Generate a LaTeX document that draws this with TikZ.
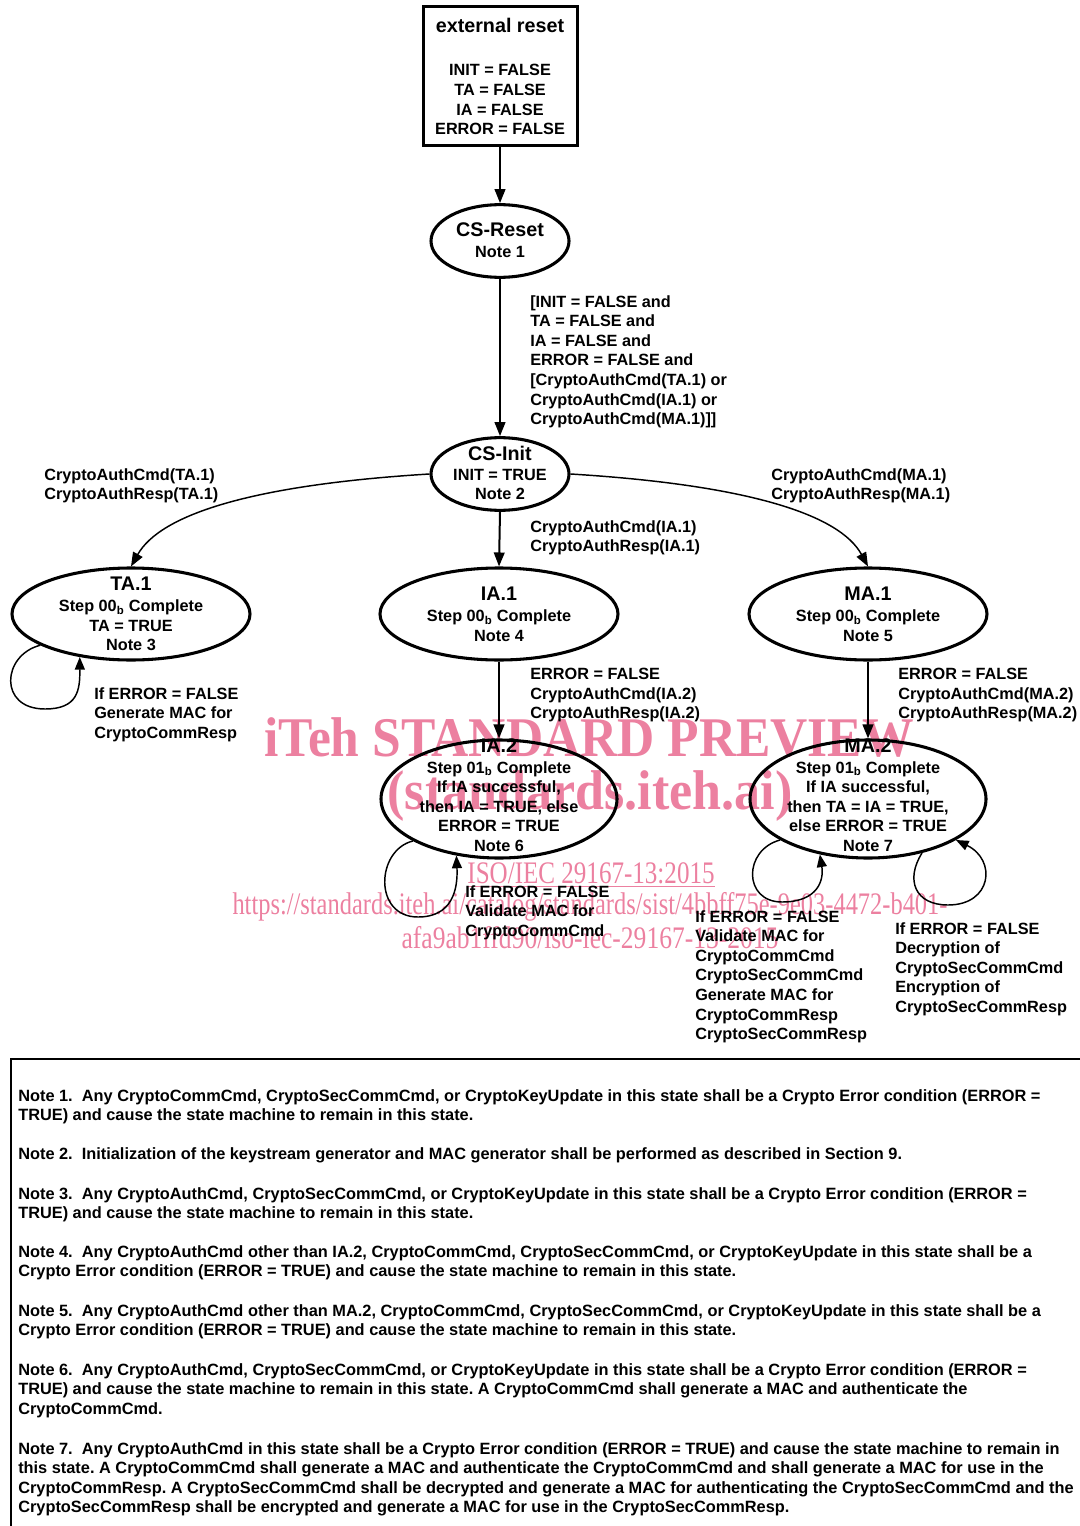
\documentclass[tikz,border=0pt]{standalone}
\usepackage{fontspec}
\setmainfont{Liberation Sans}
\newfontfamily\wmserif{Liberation Serif}
\usetikzlibrary{shapes.geometric,arrows.meta}
\definecolor{wmpink}{RGB}{236,128,160}
\newcommand\sttitle[1]{{\fontsize{14.8}{15}\selectfont #1}}
\frenchspacing
\begin{document}
\begin{tikzpicture}[x=0.75pt,y=-0.75pt,
  font=\bfseries\fontsize{12.2}{14.7}\selectfont,
  st/.style={ellipse, draw, line width=2.3pt, inner sep=0pt},
  big/.style={minimum width=178.5pt, minimum height=69pt},
  small/.style={minimum width=103.5pt, minimum height=54.5pt},
  tall/.style={minimum width=177pt, minimum height=88.5pt},
  txt/.style={align=center, inner sep=0pt},
  lab/.style={anchor=north west, align=left, inner sep=0pt},
  notetxt/.style={lab, font=\bfseries\fontsize{12.26}{14.7}\selectfont},
  arr/.style={line width=1.5pt, -{Triangle[length=10.5pt,width=8pt]}},
  arrc/.style={line width=1.1pt, -{Triangle[length=10.5pt,width=8pt]}},
  loopl/.style={line width=1.1pt, -{Triangle[length=9.5pt,width=7.5pt]}},
  wm/.style={text=wmpink, inner sep=0pt}]
\useasboundingbox (0,0) rectangle (1079,1526);

% watermark (underneath)
\node[wm, font=\wmserif\bfseries\fontsize{42}{42}\selectfont] (wm1) at (589,737) {\scalebox{0.92}[1]{iTeh STANDARD PREVIEW}};
\node[wm, font=\wmserif\bfseries\fontsize{42}{42}\selectfont] (wm2) at (590,796) {\scalebox{0.93}[1]{(standards.iteh.ai)}};
\node[wm, font=\wmserif\fontsize{23.5}{24}\selectfont] (wm3) at (591,875) {\scalebox{0.8}[1]{\underline{ISO/IEC 29167-13:2015}}};
\node[wm, font=\wmserif\fontsize{23.5}{24}\selectfont] (wm4) at (590,907) {\scalebox{0.78}[1]{https://standards.iteh.ai/catalog/standards/sist/4bbff75e-9e03-4472-b401-}};
\node[wm, font=\wmserif\fontsize{23.5}{24}\selectfont] (wm5) at (590,938) {\scalebox{0.815}[1]{afa9ab1ffd90/iso-iec-29167-13-2015}};

% external reset box
\node[draw, line width=2.25pt, minimum width=115.5pt, minimum height=104.25pt, align=center, inner sep=0pt] (ext) at (500,76.5)
  {\sttitle{external reset}\\[18pt]INIT = FALSE\\TA = FALSE\\IA = FALSE\\ERROR = FALSE};

% states
\node[st,small] (reset) at (500,241) {};
\node[txt] (reset-t) at (500,240.4) {\sttitle{CS-Reset}\\[1pt]Note 1};
\node[st,small] (init) at (500,474) {};
\node[txt] (init-t) at (500,473) {\sttitle{CS-Init}\\INIT = TRUE\\Note 2};
\node[st,big] (ta1) at (131,614) {};
\node[txt] (ta1-t) at (131,614) {\sttitle{TA.1}\\[0.9pt]Step 00\textsubscript{b} Complete\\TA = TRUE\\Note 3};
\node[st,big] (ia1) at (499,614) {};
\node[txt] (ia1-t) at (499,614.3) {\sttitle{IA.1}\\[0.9pt]Step 00\textsubscript{b} Complete\\Note 4};
\node[st,big] (ma1) at (868,614) {};
\node[txt] (ma1-t) at (868,614.3) {\sttitle{MA.1}\\[0.9pt]Step 00\textsubscript{b} Complete\\Note 5};
\node[st,tall] (ia2) at (499,799) {};
\node[txt] (ia2-t) at (499,795) {\sttitle{IA.2}\\[0.9pt]Step 01\textsubscript{b} Complete\\If IA successful,\\then IA = TRUE, else\\ERROR = TRUE\\Note 6};
\node[st,tall] (ma2) at (868,799) {};
\node[txt] (ma2-t) at (868,795) {\sttitle{MA.2}\\[0.9pt]Step 01\textsubscript{b} Complete\\If IA successful,\\then TA = IA = TRUE,\\else ERROR = TRUE\\Note 7};

% connectors
\draw[arr] (ext.south) -- (reset.north);
\draw[arr] (reset.south) -- (init.north);
\draw[arr] (init.south) -- (ia1.north);
\draw[arr] (ia1.south) -- (ia2.north);
\draw[arr] (ma1.south) -- (ma2.north);
\draw[arrc] (init.west) .. controls (250,485) and (160,515) .. (ta1.north);
\draw[arrc] (init.east) .. controls (750,485) and (840,515) .. (ma1.north);

% self loops
\draw[loopl] (ta1.199) .. controls (2,655) and (-2,709) .. (45,709) .. controls (78,709) and (80,690) .. (ta1.220);
\draw[loopl] (ia2.206) .. controls (376,850) and (373,917) .. (418,917) .. controls (452,917) and (458,890) .. (ia2.233);
\draw[loopl] (ma2.205) .. controls (743,850) and (743,902) .. (782,902) .. controls (818,902) and (824,880) .. (ma2.229);
\draw[loopl] (ma2.315) .. controls (905,880) and (915,905) .. (948,905) .. controls (992,905) and (997,860) .. (ma2.335);

% labels
\node[lab] (l-reset) at (530,295) {{[}INIT = FALSE and\\TA = FALSE and\\IA = FALSE and\\ERROR = FALSE and\\{[}CryptoAuthCmd(TA.1) or\\CryptoAuthCmd(IA.1) or\\CryptoAuthCmd(MA.1)]]};
\node[lab] (l-ta1) at (44,468) {CryptoAuthCmd(TA.1)\\CryptoAuthResp(TA.1)};
\node[lab] (l-ma1) at (771,468) {CryptoAuthCmd(MA.1)\\CryptoAuthResp(MA.1)};
\node[lab] (l-ia1) at (530,520) {CryptoAuthCmd(IA.1)\\CryptoAuthResp(IA.1)};
\node[lab] (l-ia2) at (530,668) {ERROR = FALSE\\CryptoAuthCmd(IA.2)\\CryptoAuthResp(IA.2)};
\node[lab] (l-ma2) at (898,668) {ERROR = FALSE\\CryptoAuthCmd(MA.2)\\CryptoAuthResp(MA.2)};
\node[lab] (l-taloop) at (94,687) {If ERROR = FALSE\\Generate MAC for\\CryptoCommResp};
\node[lab] (l-ialoop) at (465,885) {If ERROR = FALSE\\Validate MAC for\\CryptoCommCmd};
\node[lab] (l-maloop1) at (695,910) {If ERROR = FALSE\\Validate MAC for\\CryptoCommCmd\\CryptoSecCommCmd\\Generate MAC for\\CryptoCommResp\\CryptoSecCommResp};
\node[lab] (l-maloop2) at (895,922) {If ERROR = FALSE\\Decryption of\\CryptoSecCommCmd\\Encryption of\\CryptoSecCommResp};

% notes box
\draw[line width=1.5pt] (11,1540) -- (11,1059) -- (1090,1059);
\node[notetxt] (n1) at (18,1089) {Note 1.~ Any CryptoCommCmd, CryptoSecCommCmd, or CryptoKeyUpdate in this state shall be a Crypto Error condition (ERROR =\\TRUE) and cause the state machine to remain in this state.};
\node[notetxt] (n2) at (18,1147) {Note 2.~ Initialization of the keystream generator and MAC generator shall be performed as described in Section 9.};
\node[notetxt] (n3) at (18,1187) {Note 3.~ Any CryptoAuthCmd, CryptoSecCommCmd, or CryptoKeyUpdate in this state shall be a Crypto Error condition (ERROR =\\TRUE) and cause the state machine to remain in this state.};
\node[notetxt] (n4) at (18,1245) {Note 4.~ Any CryptoAuthCmd other than IA.2, CryptoCommCmd, CryptoSecCommCmd, or CryptoKeyUpdate in this state shall be a\\Crypto Error condition (ERROR = TRUE) and cause the state machine to remain in this state.};
\node[notetxt] (n5) at (18,1304) {Note 5.~ Any CryptoAuthCmd other than MA.2, CryptoCommCmd, CryptoSecCommCmd, or CryptoKeyUpdate in this state shall be a\\Crypto Error condition (ERROR = TRUE) and cause the state machine to remain in this state.};
\node[notetxt] (n6) at (18,1363) {Note 6.~ Any CryptoAuthCmd, CryptoSecCommCmd, or CryptoKeyUpdate in this state shall be a Crypto Error condition (ERROR =\\TRUE) and cause the state machine to remain in this state. A CryptoCommCmd shall generate a MAC and authenticate the\\CryptoCommCmd.};
\node[notetxt] (n7) at (18,1442) {Note 7.~ Any CryptoAuthCmd in this state shall be a Crypto Error condition (ERROR = TRUE) and cause the state machine to remain in\\this state. A CryptoCommCmd shall generate a MAC and authenticate the CryptoCommCmd and shall generate a MAC for use in the\\CryptoCommResp. A CryptoSecCommCmd shall be decrypted and generate a MAC for authenticating the CryptoSecCommCmd and the\\CryptoSecCommResp shall be encrypted and generate a MAC for use in the CryptoSecCommResp.};
\end{tikzpicture}
\end{document}
